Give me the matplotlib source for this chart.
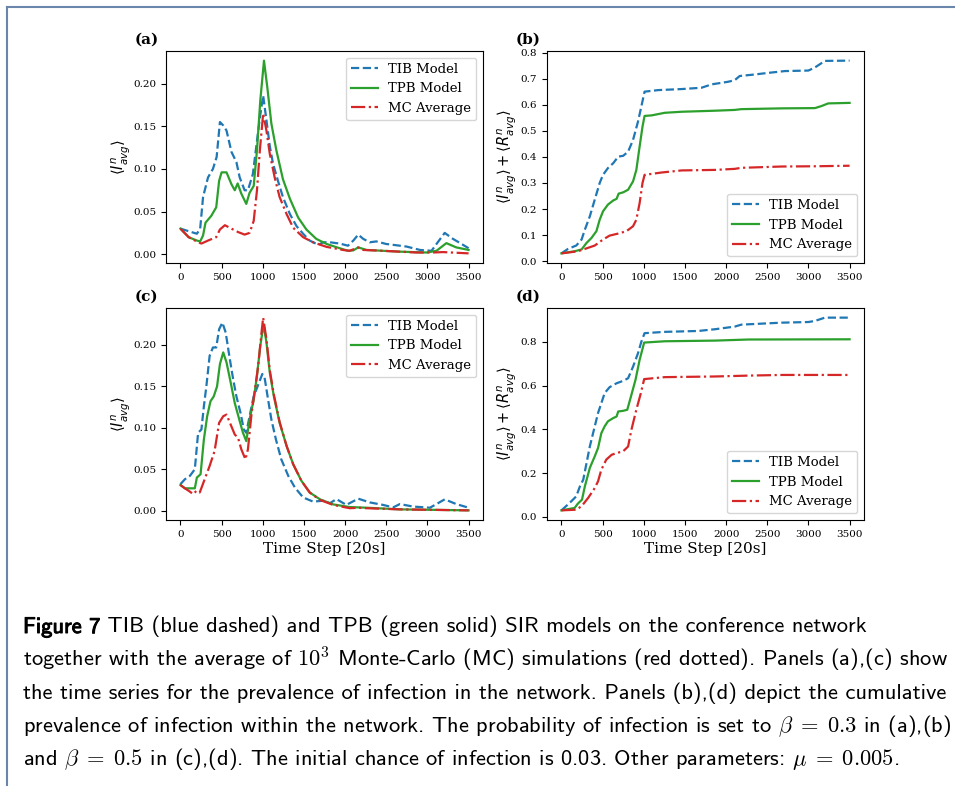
import matplotlib
matplotlib.use('Agg')
import matplotlib.pyplot as plt
import matplotlib.patheffects as pe
from matplotlib.lines import Line2D

# ---- panel (a): prevalence, beta = 0.3 ----
tib_a_t = [0, 100, 200, 240, 275, 335, 395, 440, 480, 520, 560, 620, 680, 720, 780, 820, 880, 920, 965, 1005,
           1045, 1085, 1125, 1185, 1245, 1330, 1410, 1490, 1570, 1675, 1735, 1815, 1935, 2035, 2100, 2160, 2220,
           2300, 2380, 2500, 2665, 2745, 2910, 3050, 3110, 3210, 3310, 3415, 3500]
tib_a_y = [0.030, 0.027, 0.024, 0.030, 0.067, 0.090, 0.100, 0.114, 0.155, 0.151, 0.145, 0.120, 0.108, 0.090,
           0.075, 0.075, 0.094, 0.125, 0.160, 0.186, 0.157, 0.127, 0.106, 0.086, 0.067, 0.047, 0.033, 0.024,
           0.016, 0.011, 0.014, 0.014, 0.0125, 0.010, 0.016, 0.023, 0.018, 0.014, 0.015, 0.012, 0.010, 0.009,
           0.005, 0.004, 0.012, 0.025, 0.018, 0.012, 0.007]
tpb_a_t = [0, 100, 200, 240, 275, 305, 375, 435, 470, 500, 560, 620, 660, 695, 740, 800, 840, 890, 930, 970,
           1015, 1055, 1105, 1165, 1245, 1330, 1430, 1530, 1650, 1775, 1935, 2035, 2100, 2160, 2260, 2460, 2665,
           2990, 3110, 3230, 3350, 3500]
tpb_a_y = [0.030, 0.020, 0.016, 0.015, 0.022, 0.037, 0.045, 0.055, 0.086, 0.096, 0.096, 0.082, 0.075, 0.083,
           0.071, 0.059, 0.072, 0.080, 0.122, 0.180, 0.227, 0.196, 0.153, 0.122, 0.088, 0.065, 0.043, 0.029,
           0.018, 0.012, 0.007, 0.004, 0.0045, 0.008, 0.005, 0.004, 0.003, 0.002, 0.004, 0.013, 0.008, 0.005]
mc_a_t = [0, 100, 215, 255, 335, 435, 480, 540, 620, 700, 780, 840, 890, 930, 965, 1005, 1045, 1085, 1145, 1205,
          1290, 1370, 1490, 1610, 1775, 1975, 2055, 2160, 2220, 2460, 2865, 3070, 3190, 3500]
mc_a_y = [0.030, 0.020, 0.014, 0.0125, 0.016, 0.020, 0.029, 0.034, 0.030, 0.026, 0.023, 0.025, 0.039, 0.075,
          0.122, 0.165, 0.145, 0.118, 0.090, 0.067, 0.047, 0.031, 0.020, 0.014, 0.0086, 0.005, 0.004, 0.008,
          0.005, 0.004, 0.002, 0.002, 0.0025, 0.001]

# ---- panel (b): cumulative, beta = 0.3 ----
tib_b_t = [0, 80, 180, 245, 285, 345, 405, 465, 505, 565, 630, 690, 750, 810, 870, 930, 970, 1010, 1175, 1460,
           1700, 1825, 2025, 2105, 2165, 2350, 2510, 2715, 3000, 3080, 3200, 3500]
tib_b_y = [0.030, 0.047, 0.060, 0.083, 0.121, 0.172, 0.236, 0.300, 0.331, 0.357, 0.376, 0.401, 0.404, 0.420,
           0.465, 0.535, 0.592, 0.650, 0.656, 0.660, 0.665, 0.678, 0.688, 0.694, 0.710, 0.716, 0.722, 0.729,
           0.731, 0.743, 0.768, 0.769]
tpb_b_t = [0, 160, 245, 305, 365, 425, 465, 505, 565, 630, 670, 695, 750, 810, 870, 910, 950, 985, 1010, 1095,
           1255, 1460, 1865, 2105, 2185, 2675, 3080, 3160, 3240, 3500]
tpb_b_y = [0.030, 0.038, 0.045, 0.070, 0.089, 0.115, 0.159, 0.191, 0.217, 0.233, 0.239, 0.259, 0.264, 0.274,
           0.306, 0.350, 0.440, 0.516, 0.557, 0.559, 0.569, 0.573, 0.577, 0.580, 0.583, 0.586, 0.587, 0.595,
           0.605, 0.607]
mc_b_t = [0, 200, 285, 405, 505, 585, 690, 790, 870, 910, 950, 985, 1010, 1215, 1460, 1865, 2105, 2185, 2675,
          3080, 3500]
mc_b_y = [0.030, 0.038, 0.047, 0.060, 0.083, 0.098, 0.106, 0.115, 0.134, 0.159, 0.223, 0.300, 0.331, 0.340,
          0.348, 0.350, 0.354, 0.358, 0.363, 0.364, 0.366]

# ---- panel (c): prevalence, beta = 0.5 ----
tib_c_t = [0, 55, 115, 175, 215, 255, 285, 315, 355, 395, 435, 470, 510, 550, 600, 640, 680, 730, 770, 800, 840,
           890, 945, 995, 1025, 1065, 1105, 1160, 1225, 1310, 1390, 1490, 1610, 1735, 1815, 1895, 2015, 2160,
           2300, 2460, 2585, 2665, 2825, 3030, 3110, 3210, 3350, 3500]
tib_c_y = [0.032, 0.038, 0.042, 0.050, 0.094, 0.098, 0.126, 0.150, 0.187, 0.197, 0.197, 0.219, 0.227, 0.215,
           0.183, 0.159, 0.138, 0.118, 0.098, 0.094, 0.114, 0.138, 0.152, 0.165, 0.159, 0.134, 0.110, 0.086,
           0.062, 0.042, 0.028, 0.016, 0.011, 0.012, 0.009, 0.014, 0.007, 0.0145, 0.010, 0.007, 0.004, 0.008,
           0.005, 0.0036, 0.008, 0.0137, 0.008, 0.0036]
tpb_c_t = [0, 55, 175, 200, 245, 285, 325, 365, 405, 445, 480, 520, 560, 610, 660, 715, 760, 800, 840, 890, 930,
           970, 1010, 1045, 1085, 1135, 1205, 1290, 1370, 1470, 1570, 1695, 1855, 2055, 2260, 2665, 3500]
tpb_c_y = [0.031, 0.027, 0.027, 0.040, 0.044, 0.086, 0.114, 0.132, 0.138, 0.150, 0.177, 0.191, 0.179, 0.155,
           0.130, 0.110, 0.094, 0.084, 0.110, 0.134, 0.163, 0.199, 0.225, 0.203, 0.167, 0.138, 0.106, 0.078,
           0.056, 0.036, 0.022, 0.0137, 0.0076, 0.0044, 0.0036, 0.0016, 0.0004]
mc_c_t = [0, 55, 115, 155, 195, 235, 295, 355, 415, 470, 520, 560, 610, 660, 700, 740, 790, 820, 865, 905, 945,
          985, 1005, 1045, 1085, 1135, 1205, 1290, 1370, 1470, 1570, 1695, 1855, 2055, 2160, 2260, 2665, 3500]
mc_c_y = [0.031, 0.027, 0.023, 0.020, 0.024, 0.022, 0.038, 0.054, 0.072, 0.106, 0.114, 0.116, 0.104, 0.092,
          0.088, 0.074, 0.062, 0.074, 0.118, 0.146, 0.175, 0.215, 0.233, 0.207, 0.170, 0.140, 0.107, 0.078,
          0.056, 0.036, 0.022, 0.013, 0.007, 0.003, 0.0035, 0.003, 0.0016, 0.0004]

# ---- panel (d): cumulative, beta = 0.5 ----
tib_d_t = [0, 100, 180, 225, 265, 305, 345, 405, 445, 485, 525, 585, 670, 750, 810, 870, 930, 970, 1010, 1255,
           1660, 1865, 2105, 2185, 2675, 3000, 3080, 3200, 3500]
tib_d_y = [0.030, 0.064, 0.094, 0.140, 0.170, 0.246, 0.322, 0.414, 0.475, 0.520, 0.566, 0.593, 0.611, 0.622,
           0.634, 0.687, 0.748, 0.800, 0.840, 0.846, 0.850, 0.858, 0.870, 0.879, 0.888, 0.891, 0.896, 0.911,
           0.911]
tpb_d_t = [0, 160, 200, 250, 285, 345, 405, 445, 485, 525, 565, 630, 670, 690, 750, 800, 850, 900, 950, 1005,
           1255, 1865, 2270, 3500]
tpb_d_y = [0.030, 0.041, 0.061, 0.079, 0.140, 0.224, 0.277, 0.315, 0.383, 0.414, 0.437, 0.452, 0.459, 0.482,
           0.485, 0.490, 0.558, 0.627, 0.718, 0.797, 0.803, 0.806, 0.811, 0.812]
mc_d_t = [0, 180, 245, 325, 405, 445, 485, 545, 610, 670, 750, 810, 850, 910, 965, 1005, 1255, 1865, 2270, 2675,
          3500]
mc_d_y = [0.030, 0.033, 0.049, 0.087, 0.132, 0.163, 0.216, 0.262, 0.284, 0.292, 0.300, 0.322, 0.398, 0.490,
          0.566, 0.630, 0.639, 0.642, 0.646, 0.649, 0.649]

caption_head = 'Figure 7'
caption_first = ' TIB (blue dashed) and TPB (green solid) SIR models on the conference network'
caption_lines = [
    "together with the average of $10^3$ Monte-Carlo (MC) simulations (red dotted). Panels (a),(c) show",
    "the time series for the prevalence of infection in the network. Panels (b),(d) depict the cumulative",
    r"prevalence of infection within the network. The probability of infection is set to $\beta\;=\;0.3$ in (a),(b)",
    r"and $\beta\;=\;0.5$ in (c),(d). The initial chance of infection is 0.03. Other parameters: $\mu\;=\;0.005$.",
]

plt.rcParams['font.family'] = 'DejaVu Serif'

W, H = 955, 786
fig = plt.figure(figsize=(W / 100, H / 100), dpi=100, facecolor='white')


def px_axes(left, top, width=317, height=212):
    return fig.add_axes([left / W, 1 - (top + height) / H, width / W, height / H])


panels = [
    (px_axes(166, 51), '(a)', (tib_a_t, tib_a_y), (tpb_a_t, tpb_a_y), (mc_a_t, mc_a_y), 'upper right', False),
    (px_axes(547, 51), '(b)', (tib_b_t, tib_b_y), (tpb_b_t, tpb_b_y), (mc_b_t, mc_b_y), 'lower right', True),
    (px_axes(166, 308), '(c)', (tib_c_t, tib_c_y), (tpb_c_t, tpb_c_y), (mc_c_t, mc_c_y), 'upper right', False),
    (px_axes(547, 308), '(d)', (tib_d_t, tib_d_y), (tpb_d_t, tpb_d_y), (mc_d_t, mc_d_y), 'lower right', True),
]

for i, (ax, letter, tib, tpb, mc, loc, cumulative) in enumerate(panels):
    ax.plot(tib[0], tib[1], color='#1f77b4', linestyle='--', linewidth=1.6, label='TIB Model')
    ax.plot(tpb[0], tpb[1], color='#2ca02c', linestyle='-', linewidth=1.6, label='TPB Model')
    ax.plot(mc[0], mc[1], color='#d62728', linestyle='-.', linewidth=1.6, label='MC Average')
    ax.set_xticks(range(0, 3501, 500))
    ax.tick_params(labelsize=7.5)
    if cumulative:
        ax.set_ylabel(r'$\langle I^n_{avg}\rangle + \langle R^n_{avg}\rangle$', fontsize=10.5,
                      family='DejaVu Sans', labelpad=2)
    else:
        ax.set_ylabel(r'$\langle I^n_{avg}\rangle$', fontsize=10.5, family='DejaVu Sans', labelpad=1)
    if i >= 2:
        ax.set_xlabel('Time Step [20s]', fontsize=11, labelpad=2)
    ax.legend(loc=loc, fontsize=9.5)
    bbox = ax.get_position()
    fig.text(bbox.x0 - 31 / W, bbox.y1 + 11 / H, letter, fontsize=11, fontweight='bold', va='center')

# figure frame lines (left and top)
frame_color = '#6a86aa'
fig.add_artist(Line2D([7 / W, 7 / W], [0, 1 - 7 / H], transform=fig.transFigure, color=frame_color, lw=1.5))
fig.add_artist(Line2D([7 / W, 1], [1 - 7 / H, 1 - 7 / H], transform=fig.transFigure, color=frame_color, lw=1.5))

# caption
cap_size = 16.2
cap_x = 23 / W
head = fig.text(cap_x, 1 - 633 / H, caption_head, family='cmss10', fontsize=cap_size, va='baseline',
                path_effects=[pe.withStroke(linewidth=0.7, foreground='black')])
fig.add_artist(matplotlib.text.Annotation(caption_first, xy=(1, 0), xycoords=head, va='bottom', ha='left',
                                          family='cmss10', fontsize=cap_size, annotation_clip=False))
for k, line in enumerate(caption_lines):
    fig.text(cap_x, 1 - (633 + 33 * (k + 1)) / H, line, family='cmss10', fontsize=cap_size,
             va='baseline', math_fontfamily='cm')

fig.savefig('out.png', dpi=100, facecolor='white')
